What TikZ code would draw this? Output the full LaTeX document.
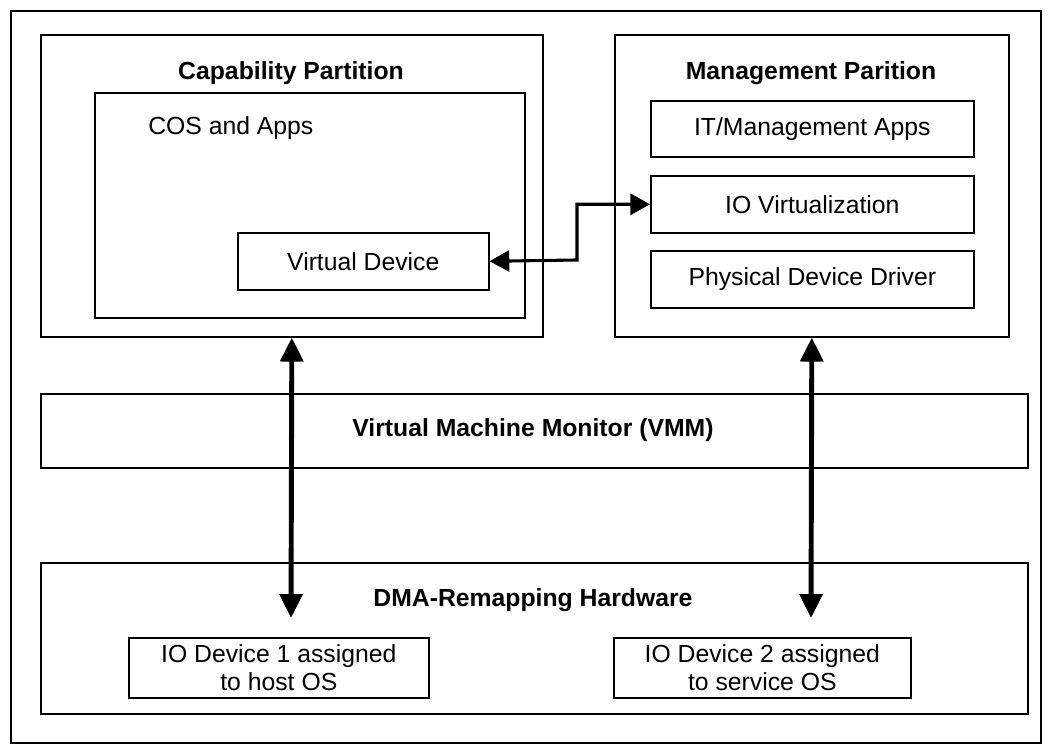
\documentclass[tikz,border=0pt]{standalone}
\usepackage{fontspec}
\setmainfont{Liberation Sans}
\usetikzlibrary{arrows.meta, positioning, calc}

\tikzset{
  box/.style={draw, line width=1.1pt, anchor=north west, inner sep=0pt, align=center},
  hdr/.style={inner sep=0pt, font=\fontsize{17.6}{20}\selectfont\bfseries},
  plain/.style={inner sep=0pt},
  bigarrow/.style={line width=3.5pt, {Triangle[length=17pt,width=16pt]}-{Triangle[length=17pt,width=16pt]}},
  linkarrow/.style={line width=2.2pt, {Triangle[length=14pt,width=15pt]}-{Triangle[length=14pt,width=15pt]}}
}

\begin{document}
\begin{tikzpicture}[x=0.025cm, y=-0.025cm, font=\fontsize{17.6}{20}\selectfont]
  \useasboundingbox (0,0) rectangle (1053,755);
  \draw[line width=1.2pt] (11,11) rectangle (1041,743);

  % capability partition
  \node[box, minimum width=12.55cm, minimum height=7.55cm] (cap) at (40,34) {};
  \node[hdr] (captitle) at (291,73) {Capability Partition};
  \node[box, minimum width=10.75cm, minimum height=5.625cm] (cos) at (94,92) {};
  \node[plain, anchor=west] (coslbl) at (148,128) {COS and Apps};
  \node[box, minimum width=6.275cm, minimum height=1.425cm] (vdev) at (237,232) {Virtual Device};

  % management partition
  \node[box, minimum width=9.85cm, minimum height=7.55cm] (mgmt) at (614,34) {};
  \node[hdr] (mgmttitle) at (811,73) {Management Parition};
  \node[box, minimum width=8.075cm, minimum height=1.4cm] (itapps) at (650,100) {IT/Management Apps};
  \node[box, minimum width=8.075cm, minimum height=1.425cm] (iovirt) at (650,175) {IO Virtualization};
  \node[box, minimum width=8.075cm, minimum height=1.425cm] (physdrv) at (650,250) {Physical Device Driver};

  % vmm and hardware
  \node[box, minimum width=24.675cm, minimum height=1.85cm] (vmm) at (40,393) {};
  \node[hdr] (vmmtitle) at (533,430) {Virtual Machine Monitor (VMM)};
  \node[box, minimum width=24.675cm, minimum height=3.775cm] (dma) at (40,562) {};
  \node[hdr] (dmatitle) at (533,600) {DMA-Remapping Hardware};
  \node[box, minimum width=7.5cm, minimum height=1.5cm] (dev1) at (128,637) {IO Device 1 assigned\\to host OS};
  \node[box, minimum width=7.425cm, minimum height=1.5cm] (dev2) at (613,637) {IO Device 2 assigned\\to service OS};

  % connectors
  \coordinate (elbow) at (577,260);
  \coordinate (hostend) at (291,618);
  \coordinate (svcend) at (811,618);
  \draw[linkarrow] (vdev.east) -- (elbow) |- (iovirt.west);
  \draw[bigarrow] (cap.south) -- (hostend);
  \draw[bigarrow] (mgmt.south) -- (svcend);
\end{tikzpicture}
\end{document}
